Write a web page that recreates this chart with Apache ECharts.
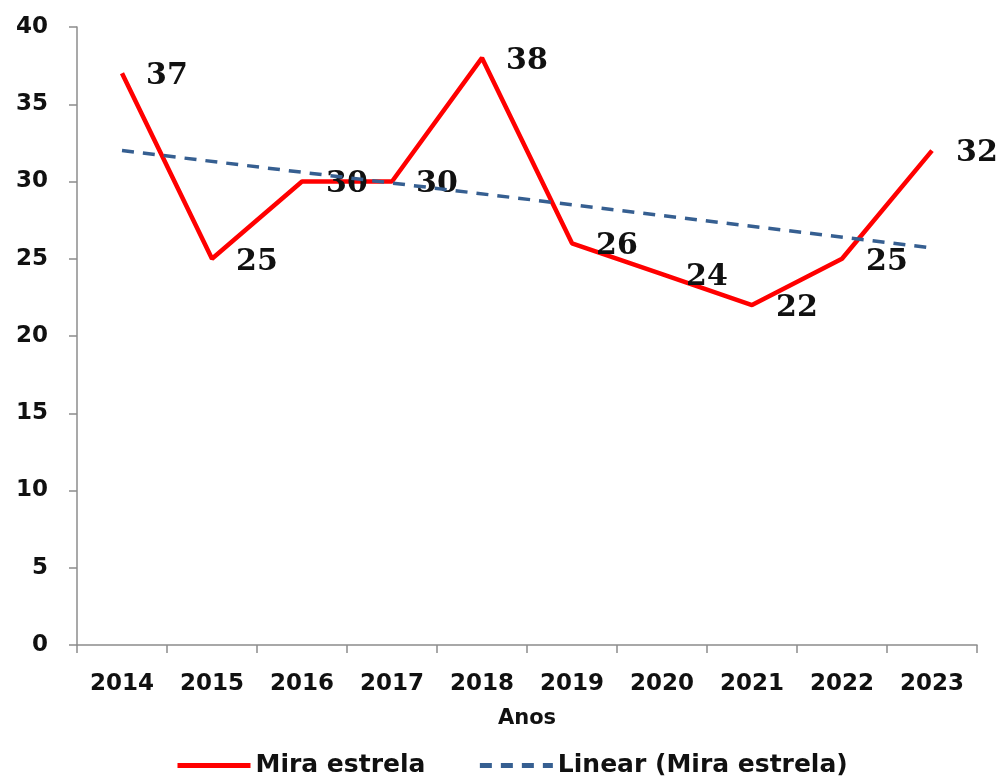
<!DOCTYPE html>
<html><head><meta charset="utf-8">
<script src="https://cdn.jsdelivr.net/npm/echarts@6/dist/echarts.min.js"></script>
<style>html,body{margin:0;padding:0;background:#fff}#c{width:1003px;height:776px}</style>
</head><body><div id="c"></div>
<script>
const years = ['2014','2015','2016','2017','2018','2019','2020','2021','2022','2023'];
const miraEstrela = [37,25,30,30,38,26,24,22,25,32];
const trendLine = [32.0,null,null,null,null,null,null,null,null,25.7];
const yTicks = {min:0,max:40,interval:5};

const axisFont = {fontFamily:'DejaVu Sans',fontWeight:'bold',fontSize:23,color:'#111'};
const chart = echarts.init(document.getElementById('c'));
chart.setOption({
  animation:false,
  backgroundColor:'#fff',
  grid:{left:77,right:26,top:27,bottom:131,containLabel:false},
  legend:{
    left:170, top:748, itemWidth:73, itemHeight:6, itemGap:52,
    itemStyle:{opacity:0},
    lineStyle:{width:5},
    textStyle:{fontFamily:'DejaVu Sans',fontWeight:'bold',fontSize:25,color:'#111'},
    data:['Mira estrela','Linear (Mira estrela)']
  },
  xAxis:{
    type:'category', data:years, boundaryGap:true,
    name:'Anos', nameLocation:'middle', nameGap:63,
    nameTextStyle:{fontFamily:'DejaVu Sans',fontWeight:'bold',fontSize:21,color:'#111'},
    axisLine:{lineStyle:{color:'#8c8c8c',width:1.5}},
    axisTick:{show:true,length:8,alignWithLabel:false,lineStyle:{color:'#8c8c8c',width:1.5}},
    axisLabel:Object.assign({margin:28},axisFont),
    splitLine:{show:false}
  },
  yAxis:{
    type:'value', min:yTicks.min, max:yTicks.max, interval:yTicks.interval,
    axisLine:{show:true,lineStyle:{color:'#8c8c8c',width:1.5}},
    axisTick:{show:true,length:8,lineStyle:{color:'#8c8c8c',width:1.5}},
    axisLabel:Object.assign({margin:29},axisFont),
    splitLine:{show:false}
  },
  series:[
    {
      name:'Mira estrela', type:'line', data:miraEstrela,
      symbol:'circle', symbolSize:0.01, showSymbol:true,
      lineStyle:{color:'#ff0000',width:4.5}, itemStyle:{color:'#ff0000'},
      z:2,
      label:{show:true,position:'right',distance:24,offset:[0,3],
        fontFamily:'DejaVu Serif',fontWeight:'bold',fontSize:30,color:'#111'}
    },
    {
      name:'Linear (Mira estrela)', type:'line', data:trendLine, connectNulls:true,
      symbol:'none', lineStyle:{color:'#365f91',width:3.5,type:[12,9]}, itemStyle:{color:'#365f91'},
      z:3
    }
  ]
});
</script></body></html>
